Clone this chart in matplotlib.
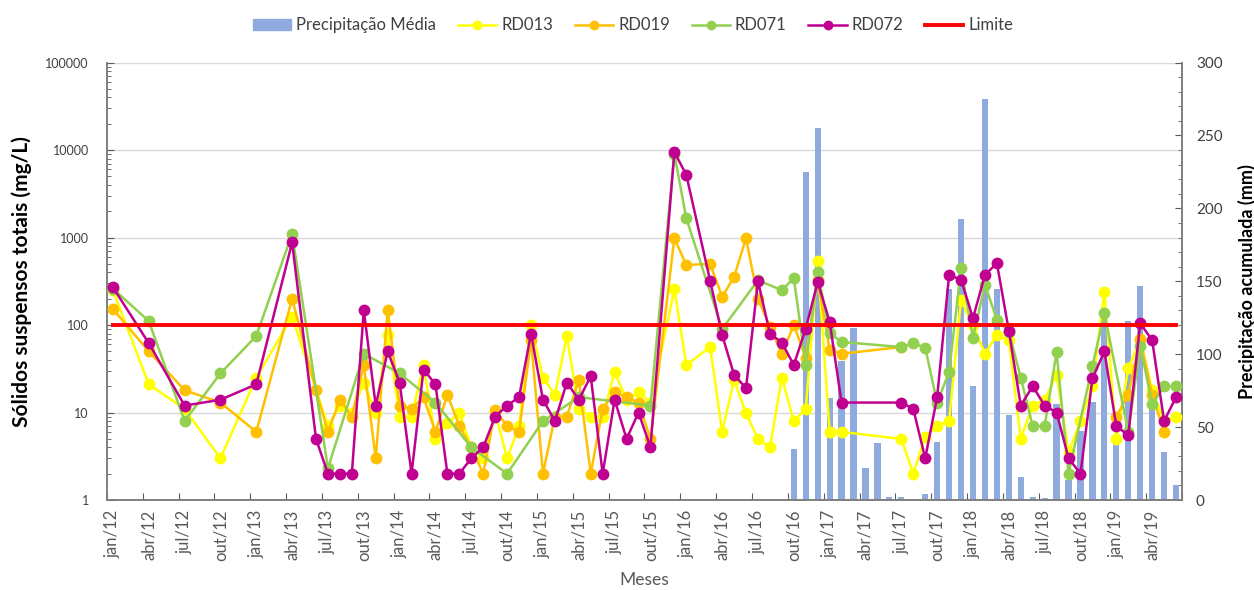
import numpy as np
import matplotlib.pyplot as plt
from matplotlib.ticker import FixedLocator, MultipleLocator, NullFormatter, FuncFormatter
from matplotlib.patches import Patch
from matplotlib.lines import Line2D

plt.rcParams['font.family'] = ['Lato', 'DejaVu Sans']

nan = np.nan

# months jan/12 .. jun/19 (one row per year)
month_abbr = ['jan', 'fev', 'mar', 'abr', 'mai', 'jun', 'jul', 'ago', 'set', 'out', 'nov', 'dez']
months = [f'{m}/{y}' for y in range(12, 20) for m in month_abbr][:90]

precip = (
    [nan] * 12 +
    [nan] * 12 +
    [nan] * 12 +
    [nan] * 12 +
    [nan, nan, nan, nan, nan, nan, nan, nan, nan, 35, 225, 255] +
    [70, 95, 118, 22, 39, 2, 2, 0.5, 4, 40, 145, 193] +
    [78, 275, 145, 58, 16, 2, 1.5, 66, 14, 47, 67, 125] +
    [40, 123, 147, 71, 33, 10]
)

rd013 = (
    [250, nan, nan, 21, nan, nan, 11, nan, nan, 3, nan, nan] +
    [25, nan, nan, 125, nan, nan, 7, 12, 10, 22, 10, 77] +
    [9, 9, 35, 5, 7.5, 10, 4, 3, 10, 3, 7, 100] +
    [25, 16, 75, 11, 9, 9, 29, 14, 17, 13, nan, 256] +
    [35, nan, 56, 6, 23.5, 9.8, 5, 4, 25, 8, 11, 540] +
    [6, 6, nan, nan, nan, nan, 5, 2, 5.3, 7, 8, 193] +
    [100, 47, 77, 67, 5, 12, 14, 27, 3.5, 8, 20, 240] +
    [5, 32, 67, 18, 8, 9]
)

rd019 = (
    [152, nan, nan, 50, nan, nan, 18, nan, nan, 13, nan, nan] +
    [6, nan, nan, 200, nan, 18, 6, 14, 9, 35, 3, 148] +
    [12, 11, 15, 6, 16, 7, 4, 2, 10.7, 7, 6, 67] +
    [2, 9, 9, 23.5, 2, 11, 17, 15, 13, 5, nan, 980] +
    [485, nan, 500, 210, 356, 980, 200, 95, 47, 100, 42, 330] +
    [52, 47, nan, nan, nan, nan, 56, nan, nan, nan, nan, nan] +
    [nan] * 12 +
    [9, 16, 70, 16, 6, nan]
)

rd071 = (
    [260, nan, nan, 111, nan, nan, 8, nan, nan, 28, nan, nan] +
    [75, nan, nan, 1100, nan, nan, 2.3, nan, nan, 47, nan, nan] +
    [28, nan, nan, 13, nan, nan, 4, nan, nan, 2, nan, nan] +
    [8, nan, nan, 15, nan, nan, nan, nan, nan, 12, nan, 9000] +
    [1660, nan, nan, 90, nan, nan, 325, nan, 250, 345, 35, 405] +
    [81, 64, nan, nan, nan, nan, 56, 62, 55, 13, 29, 445] +
    [72, 290, 115, 84, 25, 7, 7, 49, 2, nan, 34, 137] +
    [nan, 6, 58, 12.5, 20, 20]
)

rd072 = (
    [270, nan, nan, 62, nan, nan, 12, nan, nan, 14, nan, nan] +
    [21, nan, nan, 880, nan, 5, 2, 2, 2, 148, 12, 50] +
    [22, 2, 31, 21, 2, 2, 3, 4, 9, 12, 15, 80] +
    [14, 8, 22, 14, 26, 2, 14, 5, 10, 4, nan, 9500] +
    [5200, nan, 318, 77, 27, 19, 318, 80, 63, 35, 91, 310] +
    [109, 13, nan, nan, nan, nan, 13, 11, 3, 15, 372, 331] +
    [120, 372, 510, 86, 12, 20, 12, 10, 3, 2, 24.5, 50] +
    [7, 5.5, 105, 67, 8, 15]
)

limite = [100] * 90

series = [
    ('RD013', rd013, '#FFFF00'),
    ('RD019', rd019, '#FFC000'),
    ('RD071', rd071, '#92D050'),
    ('RD072', rd072, '#C00090'),
]

x = np.arange(len(months))
grey = '#595959'

fig = plt.figure(figsize=(12.54, 5.9), dpi=100)
axb = fig.add_axes([0.0853, 0.1525, 0.8573, 0.7415])  # precipitation bars (right scale)
ax = axb.twinx()                                         # concentrations (left, log)

# gridlines behind the bars, at the log decades of the left axis
for k in range(1, 6):
    axb.plot([0, 1], [k / 5, k / 5], transform=axb.transAxes, color='#D9D9D9',
             lw=1, zorder=0)

axb.bar(x, np.nan_to_num(np.array(precip, dtype=float)), width=0.52,
        color='#8FAADC', zorder=2)


def runs(vals):
    v = np.array(vals, dtype=float)
    idx = np.where(~np.isnan(v))[0]
    # blanks are bridged, only a long gap breaks the line
    cuts = np.where(np.diff(idx) > 12)[0] + 1
    for part in np.split(idx, cuts):
        yield part, v[part]


for name, vals, col in series:
    for xi, yi in runs(vals):
        ax.plot(xi, yi, color=col, lw=1.8, marker='o', ms=7.5, zorder=3)
ax.plot(x, limite, color='#FF0000', lw=2.8, zorder=4)

ax.set_yscale('log')
ax.set_ylim(1, 1e5)
ax.set_xlim(-0.5, len(months) - 0.5)
axb.set_ylim(0, 300)

# left axis
ax.yaxis.set_ticks_position('left')
ax.yaxis.set_label_position('left')
ax.yaxis.set_major_locator(FixedLocator([1, 10, 100, 1000, 10000, 100000]))
ax.yaxis.set_major_formatter(FuncFormatter(lambda v, p: f'{int(round(v))}'))
ax.yaxis.set_minor_locator(FixedLocator([m * 10 ** e for e in range(5) for m in range(2, 10)]))
ax.yaxis.set_minor_formatter(NullFormatter())
ax.tick_params(axis='y', which='major', direction='in', length=5, color=grey,
               labelsize=9, labelcolor='#404040', pad=13)
ax.tick_params(axis='y', which='minor', direction='in', length=3, color=grey)
ax.set_ylabel('Sólidos suspensos totais (mg/L)', fontsize=15, fontweight='bold',
              labelpad=10)

# right axis
axb.yaxis.set_ticks_position('right')
axb.yaxis.set_label_position('right')
axb.yaxis.set_major_locator(MultipleLocator(50))
axb.yaxis.set_minor_locator(MultipleLocator(10))
axb.tick_params(axis='y', which='major', direction='in', length=5, color=grey,
                labelsize=11, labelcolor='#404040', pad=10)
axb.tick_params(axis='y', which='minor', direction='in', length=3, color=grey)
axb.set_ylabel('Precipitação acumulada (mm)', fontsize=13, fontweight='bold',
               labelpad=11)

# bottom axis: ticks between months, labels every 3 months
axb.set_xticks(np.arange(-0.5, len(months), 3))
axb.set_xticklabels([])
axb.set_xticks(x[::3], minor=True)
axb.set_xticklabels(months[::3], minor=True, rotation=90)
axb.tick_params(axis='x', which='major', direction='in', length=5, color=grey)
axb.tick_params(axis='x', which='minor', length=0, labelsize=12,
                labelcolor=grey, pad=7)
axb.set_xlabel('Meses', fontsize=12.5, color=grey, labelpad=8)
ax.tick_params(axis='x', which='both', bottom=False, labelbottom=False)

for a in (ax, axb):
    a.spines['top'].set_visible(False)
    for s in ('left', 'right', 'bottom'):
        a.spines[s].set_color('#7F7F7F')
        a.spines[s].set_linewidth(1.2)

handles = [Patch(color='#8FAADC')]
labels = ['Precipitação Média']
for name, vals, col in series:
    handles.append(Line2D([], [], color=col, lw=1.8, marker='o', ms=6))
    labels.append(name)
handles.append(Line2D([], [], color='#FF0000', lw=2.8))
labels.append('Limite')
fig.legend(handles, labels, loc='center', bbox_to_anchor=(0.505, 0.957), ncol=6,
           frameon=False, fontsize=12, handlelength=2.3, handletextpad=0.3,
           columnspacing=1.3, labelcolor='#404040')

fig.savefig('out.png', dpi=100)
